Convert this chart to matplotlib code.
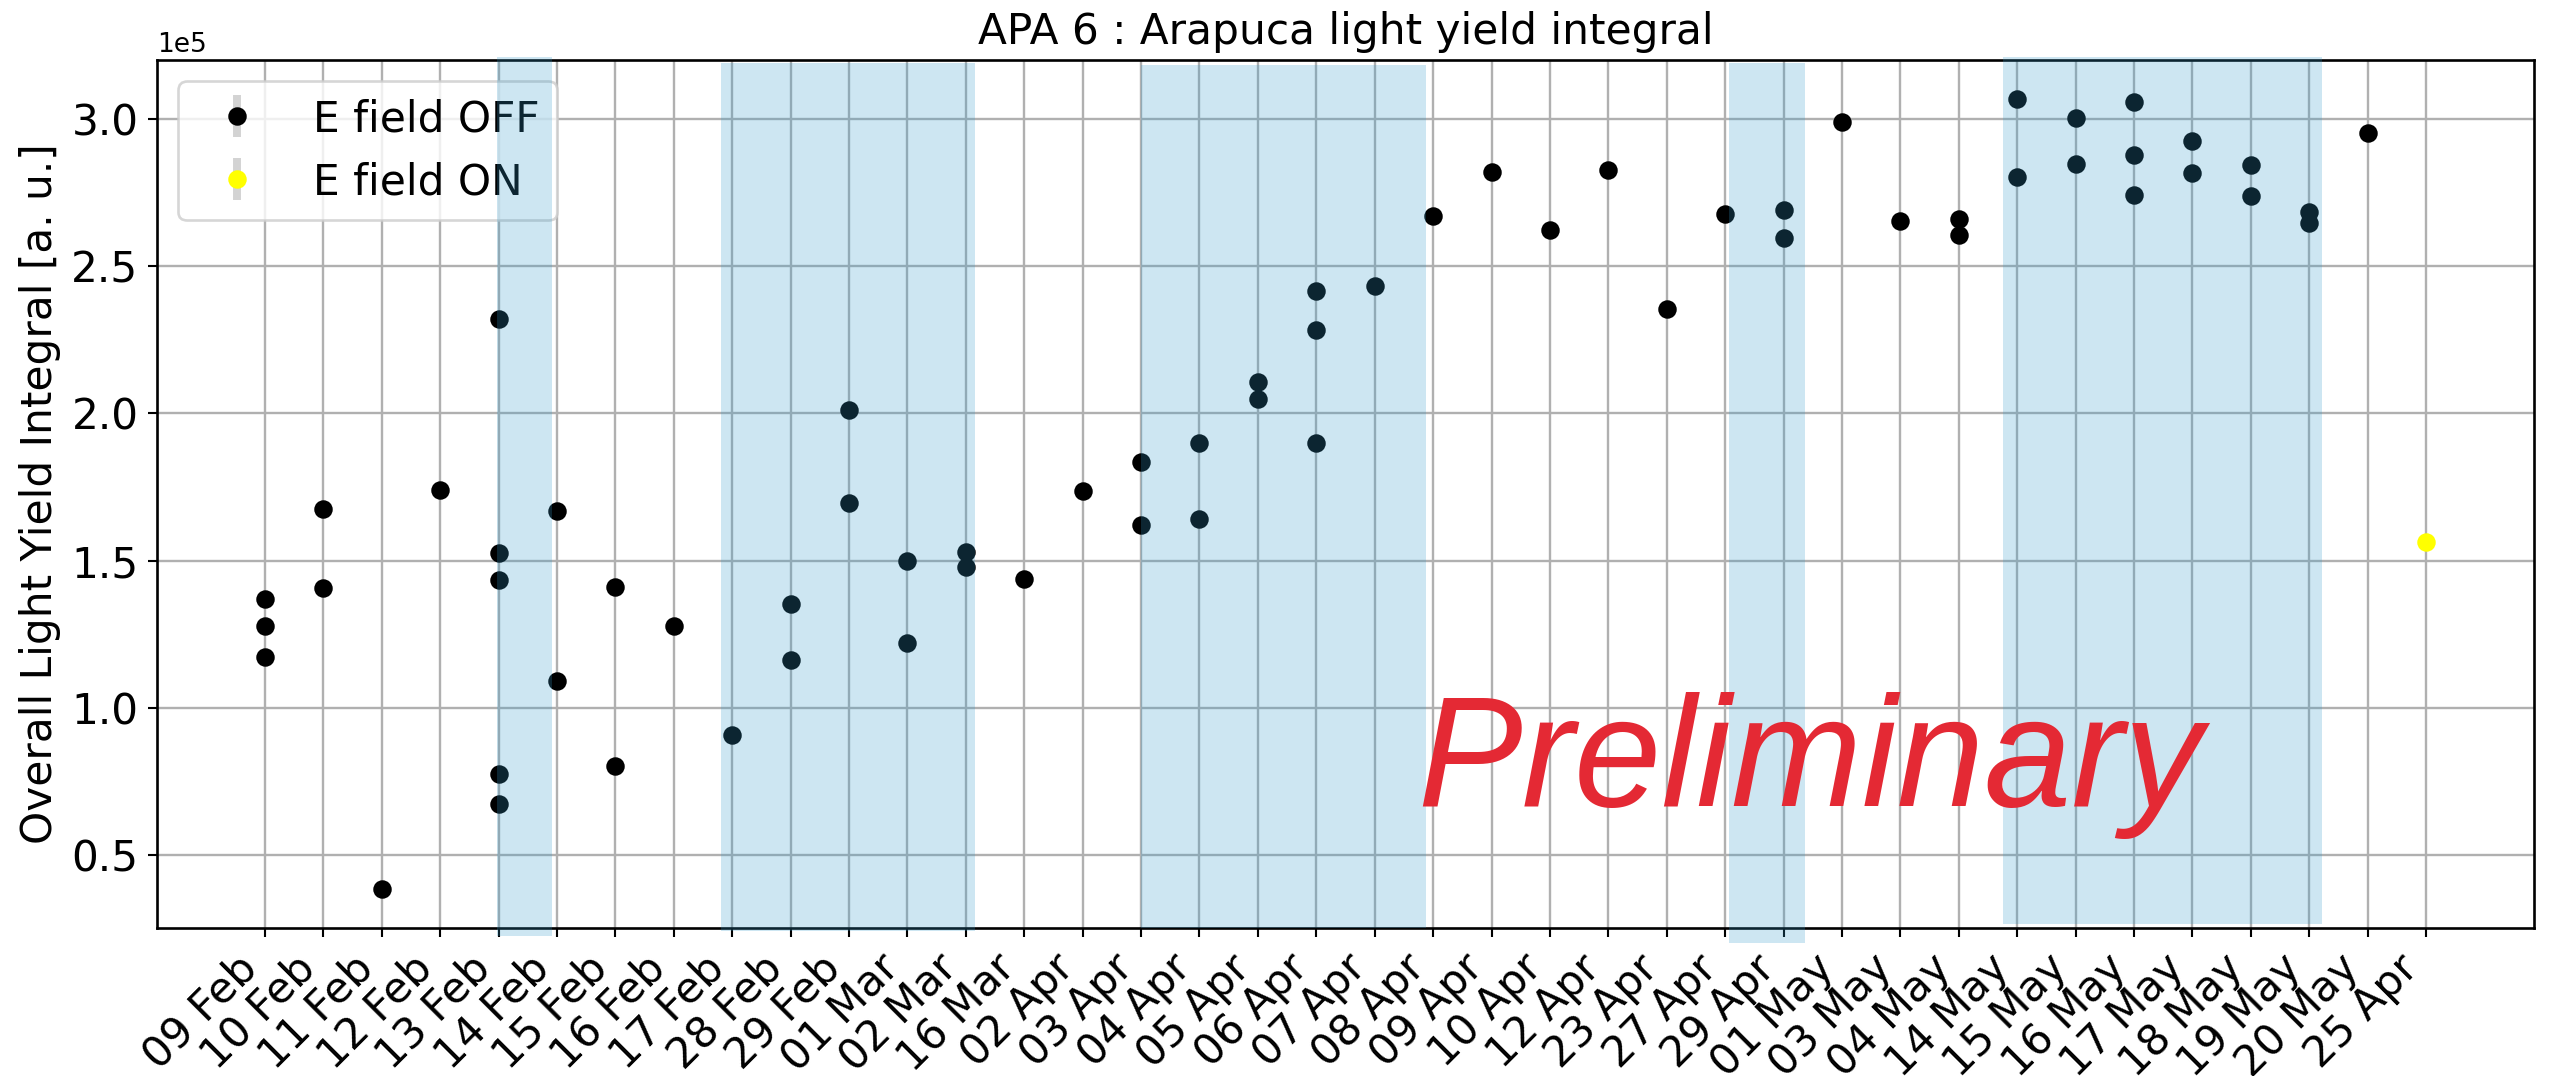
import matplotlib
matplotlib.use("Agg")
import matplotlib.pyplot as plt
import numpy as np

# ---------------- data ----------------
date_labels = ["09 Feb", "10 Feb", "11 Feb", "12 Feb", "13 Feb", "14 Feb", "15 Feb",
               "16 Feb", "17 Feb", "28 Feb", "29 Feb", "01 Mar", "02 Mar", "16 Mar",
               "02 Apr", "03 Apr", "04 Apr", "05 Apr", "06 Apr", "07 Apr", "08 Apr",
               "09 Apr", "10 Apr", "12 Apr", "23 Apr", "27 Apr", "29 Apr", "01 May",
               "03 May", "04 May", "14 May", "15 May", "16 May", "17 May", "18 May",
               "19 May", "20 May", "25 Apr"]

# E field OFF runs: (date label, light yield integral)
off_dates = ["09 Feb", "09 Feb", "09 Feb", "10 Feb", "10 Feb", "11 Feb", "12 Feb",
             "13 Feb", "13 Feb", "13 Feb", "13 Feb", "13 Feb", "14 Feb", "14 Feb",
             "15 Feb", "15 Feb", "16 Feb", "17 Feb", "28 Feb", "28 Feb", "29 Feb",
             "29 Feb", "01 Mar", "01 Mar", "02 Mar", "02 Mar", "16 Mar", "02 Apr",
             "03 Apr", "03 Apr", "04 Apr", "04 Apr", "05 Apr", "05 Apr", "06 Apr",
             "06 Apr", "06 Apr", "07 Apr", "08 Apr", "09 Apr", "10 Apr", "12 Apr",
             "23 Apr", "27 Apr", "29 Apr", "29 Apr", "01 May", "03 May", "04 May",
             "04 May", "14 May", "14 May", "15 May", "15 May", "16 May", "16 May",
             "16 May", "17 May", "17 May", "18 May", "18 May", "19 May", "19 May",
             "20 May"]
off_values = [1.368e5, 1.277e5, 1.174e5, 1.674e5, 1.408e5, 0.386e5, 1.738e5,
              2.321e5, 1.526e5, 1.435e5, 0.774e5, 0.673e5, 1.668e5, 1.091e5,
              1.409e5, 0.801e5, 1.278e5, 0.908e5, 1.351e5, 1.161e5, 2.011e5,
              1.695e5, 1.498e5, 1.221e5, 1.528e5, 1.479e5, 1.437e5, 1.735e5,
              1.833e5, 1.620e5, 1.900e5, 1.640e5, 2.105e5, 2.047e5, 2.414e5,
              2.283e5, 1.898e5, 2.434e5, 2.669e5, 2.819e5, 2.622e5, 2.828e5,
              2.353e5, 2.677e5, 2.692e5, 2.595e5, 2.988e5, 2.652e5, 2.660e5,
              2.607e5, 3.066e5, 2.801e5, 3.002e5, 2.847e5, 3.059e5, 2.876e5,
              2.743e5, 2.926e5, 2.817e5, 2.842e5, 2.737e5, 2.685e5, 2.645e5,
              2.951e5]
off_errors = [0.0] * len(off_values)

# E field ON runs
on_dates = ["25 Apr"]
on_values = [1.562e5]
on_errors = [0.0]

# shaded periods (in category-index units) and their vertical extent (axes fraction)
shade_start = [3.98, 7.81, 15.00, 25.07, 29.76]
shade_end = [4.91, 12.15, 19.88, 26.37, 35.22]
shade_ymin = [-0.009, -0.003, 0.0, -0.017, 0.005]
shade_ymax = [1.003, 0.997, 0.994, 0.996, 1.003]

# ---------------- plot ----------------
DPI = 190
fig = plt.figure(figsize=(2555 / DPI, 1076 / DPI), dpi=DPI)
ax = fig.add_axes([157 / 2555, 1 - 928 / 1076, (2534 - 157) / 2555, (928 - 60) / 1076])

pos = {d: i for i, d in enumerate(date_labels)}
off_x = [pos[d] for d in off_dates]
on_x = [pos[d] for d in on_dates]

ax.errorbar(off_x, off_values, yerr=off_errors, fmt="o", color="black",
            ecolor="lightgray", elinewidth=3, markersize=6, label="E field OFF", zorder=2)
ax.errorbar(on_x, on_values, yerr=on_errors, fmt="o", color="yellow",
            ecolor="lightgray", elinewidth=3, markersize=6, label="E field ON", zorder=2)

ax.set_xticks(range(len(date_labels)))
ax.set_xticklabels(date_labels, rotation=45, ha="right", fontsize=16)
ax.tick_params(axis="y", labelsize=16)
ax.ticklabel_format(style="sci", axis="y", scilimits=(0, 0))
ax.yaxis.get_offset_text().set_fontsize(10)

ax.grid(True, color="#b0b0b0", linewidth=0.9)
ax.set_axisbelow(True)

ax.set_ylabel("Overall Light Yield Integral [a. u.]", fontsize=16)
ax.set_title("APA 6 : Arapuca light yield integral", fontsize=16)

leg = ax.legend(loc="upper left", fontsize=16)
leg.set_zorder(5)

for x0, x1, y0, y1 in zip(shade_start, shade_end, shade_ymin, shade_ymax):
    ax.axvspan(x0, x1, ymin=y0, ymax=y1, color=(0.196, 0.608, 0.80), alpha=0.245,
               linewidth=0, zorder=6, clip_on=False)

ax.text(0.530, 0.1406, "Preliminary", transform=ax.transAxes, ha="left", va="baseline",
        fontsize=59.5, style="italic", family="Liberation Sans", color="#e42934", zorder=7)

for s in ax.spines.values():
    s.set_linewidth(1.0)

fig.savefig("out.png", dpi=DPI)
